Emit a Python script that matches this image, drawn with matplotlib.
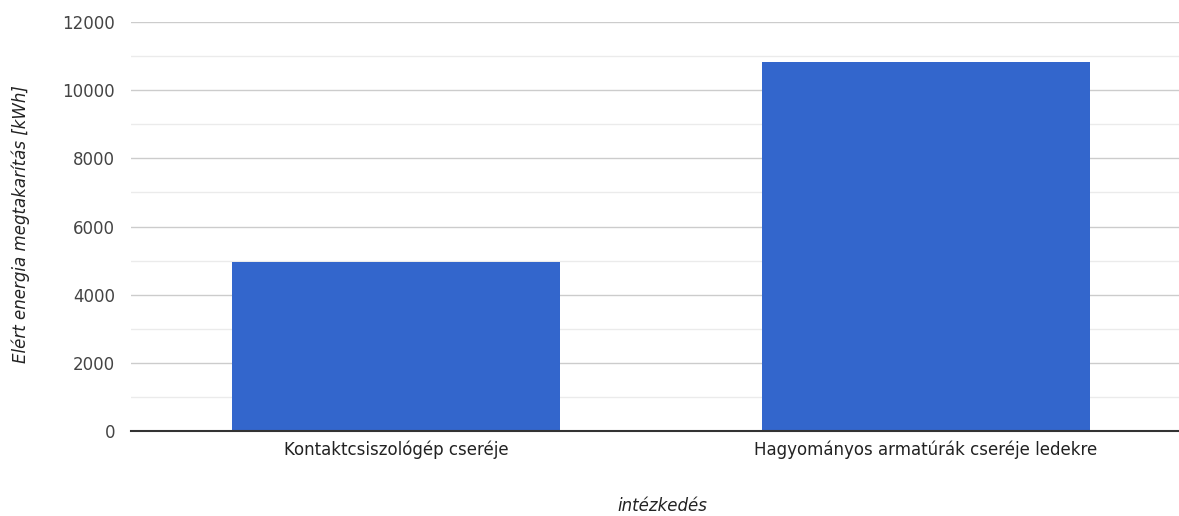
import matplotlib.pyplot as plt
from matplotlib.ticker import MultipleLocator

plt.rcParams['font.family'] = ['DejaVu Sans']

categories = ['Kontaktcsiszológép cseréje', 'Hagyományos armatúrák cseréje ledekre']
values = [4970, 10815]

fig = plt.figure(figsize=(11.79, 5.16), dpi=100)
# plot area runs past the right edge of the picture, as in the original
ax = fig.add_axes([131 / 1179, 1 - 431 / 516, 1060 / 1179, 409 / 516])

ax.bar(range(len(categories)), values, width=0.62, color='#3366cc', zorder=3)
ax.set_xlim(-0.5, 1.5)
ax.set_ylim(0, 12000)
ax.yaxis.set_major_locator(MultipleLocator(2000))
ax.yaxis.set_minor_locator(MultipleLocator(1000))
ax.grid(axis='y', which='major', color='#cccccc', linewidth=1, zorder=0)
ax.grid(axis='y', which='minor', color='#ebebeb', linewidth=1, zorder=0)
for s in ['top', 'right', 'left']:
    ax.spines[s].set_visible(False)
ax.spines['bottom'].set_color('#333333')
ax.spines['bottom'].set_linewidth(1.5)
ax.spines['bottom'].set_zorder(4)
ax.tick_params(axis='both', which='both', length=0, labelsize=12, labelcolor='#444444')
ax.tick_params(axis='y', pad=11.5)
ax.tick_params(axis='x', pad=7)
ax.set_xticks(range(len(categories)))
ax.set_xticklabels(categories, color='#222222')

fig.text(662 / 1179, 1 - 506 / 516, 'intézkedés', style='italic', fontsize=12,
         color='#222222', ha='center', va='center')
fig.text(21 / 1179, 1 - 224 / 516, 'Elért energia megtakarítás [kWh]', style='italic',
         fontsize=12, color='#222222', rotation=90, ha='center', va='center')

fig.savefig('out.png', dpi=100)
